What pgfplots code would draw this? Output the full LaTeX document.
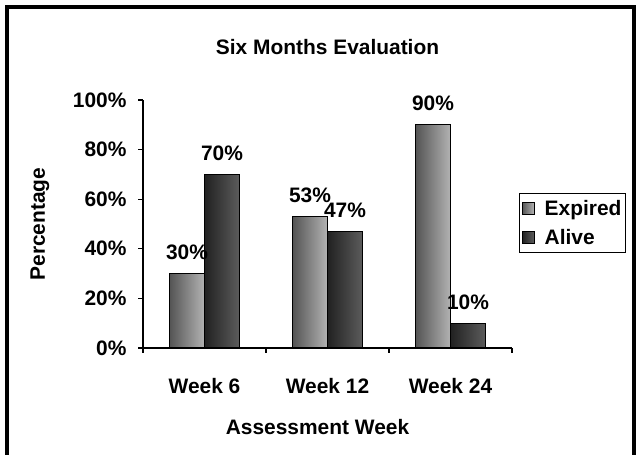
\documentclass[border=0pt]{standalone}
\usepackage{pgfplots}
\pgfplotsset{compat=1.18}
\usepackage{fontspec}
\setmainfont{Liberation Sans}
\definecolor{exA}{gray}{0.33}
\definecolor{exB}{gray}{0.70}
\definecolor{alA}{gray}{0.13}
\definecolor{alB}{gray}{0.36}
\newcommand{\lbl}{\fontsize{21}{25}\selectfont\bfseries}
\begin{document}
\begin{tikzpicture}[x=1bp,y=1bp]
\useasboundingbox (0,0) rectangle (640,455);
\draw[line width=4bp] (7,-20) -- (7,448) -- (634,448) -- (634,-20);
\begin{axis}[
  at={(143bp,107bp)}, anchor=south west,
  scale only axis, width=369bp, height=248bp,
  ybar=0pt, bar width=35bp,
  xmin=-0.5, xmax=2.5, ymin=0, ymax=100,
  axis x line*=bottom, axis y line*=left,
  axis line style={line width=1.3bp, black},
  every tick/.style={line width=1.3bp, black},
  tick align=outside, major tick length=5bp,
  xtick={-0.5,0.5,1.5,2.5}, xticklabels={},
  extra x ticks={0,1,2},
  extra x tick labels={Week 6,Week 12,Week 24},
  extra x tick style={major tick length=0pt, xticklabel style={yshift=-27bp}},
  ytick={0,20,40,60,80,100},
  yticklabel={\pgfmathprintnumber{\tick}\%},
  yticklabel style={xshift=-8bp},
  /pgf/number format/assume math mode=true,
  tick label style={font=\lbl},
  title={Six Months Evaluation},
  title style={font=\lbl, at={(axis description cs:0.5,1)}, anchor=center, yshift=47bp},
  xlabel={Assessment Week},
  every axis x label/.style={at={(axis description cs:0.5,0)}, anchor=center, yshift=-79bp, xshift=-10bp, font=\lbl},
  ylabel={Percentage},
  every axis y label/.style={at={(axis description cs:0,0.5)}, xshift=-103bp, rotate=90, anchor=center, font=\lbl},
  nodes near coords={\pgfmathprintnumber{\pgfplotspointmeta}\%},
  every node near coord/.append style={font=\lbl, black, yshift=10bp},
  legend style={at={(axis description cs:1.019,0.625)}, anchor=north west,
     draw=black, line width=1.2bp, font=\lbl, inner xsep=2bp, inner ysep=5bp,
     row sep=8bp, cells={anchor=west}},
  sq/.style={legend image code/.code={\node[inner sep=0pt, minimum width=14bp, minimum height=12bp] at (6bp,0) {}; \draw[##1, line width=1bp] (0bp,-6bp) rectangle (12bp,6bp);}},
  ex/.style={draw=black, line width=1.2bp, left color=exA, right color=exB, bar shift=-17.5bp, sq},
  al/.style={draw=black, line width=1.2bp, left color=alA, right color=alB, bar shift=17.5bp, sq},
]
\addplot[ex] coordinates {(0,30)};
\addlegendentry{Expired}
\addplot[al] coordinates {(0,70)};
\addlegendentry{Alive}
\addplot[ex, forget plot] coordinates {(1,53)};
\addplot[al, forget plot] coordinates {(1,47)};
\addplot[ex, forget plot] coordinates {(2,90)};
\addplot[al, forget plot] coordinates {(2,10)};
\end{axis}
\end{tikzpicture}
\end{document}
